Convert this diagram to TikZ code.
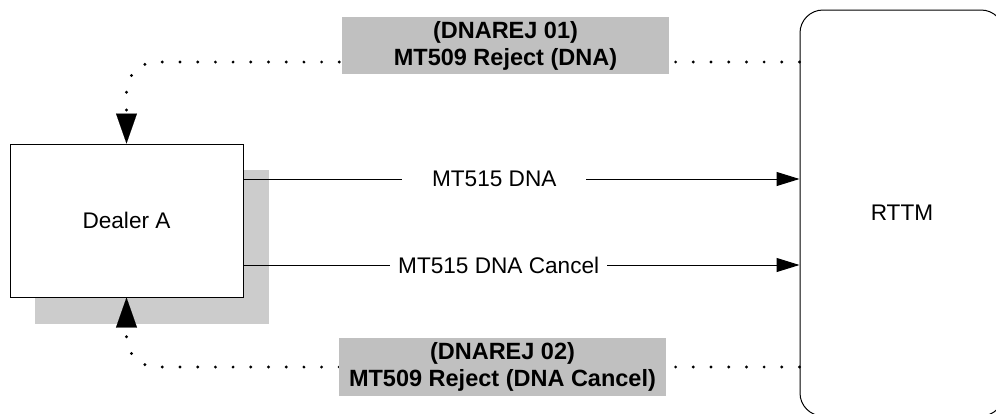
\documentclass[tikz,border=0pt]{standalone}
\usepackage{fontspec}
\setmainfont{Liberation Sans}
\usetikzlibrary{arrows.meta,backgrounds}
\definecolor{labelgray}{HTML}{C0C0C0}
\definecolor{shadowgray}{HTML}{CCCCCC}
\begin{document}
\begin{tikzpicture}[x=1pt,y=-1pt,
  plain/.style={font=\fontsize{22.6}{27}\selectfont},
  box/.style={draw, line width=1pt, inner sep=0pt, fill=white, plain},
  msg/.style={fill=labelgray, inner sep=0pt, minimum width=327pt, minimum height=57pt, align=center, font=\fontsize{23.5}{27}\selectfont\bfseries},
  lbl/.style={fill=white, inner ysep=2pt, plain},
  solidarrow/.style={line width=1pt, -{Triangle[length=23pt,width=14pt]}},
  dotarrow/.style={line width=3.2pt, line cap=round, dash pattern=on 0pt off 17.7pt, rounded corners=30pt, -{Triangle[length=30pt,width=21pt,line width=0.1pt]}},
]
\useasboundingbox (0,0) rectangle (996,413);
\clip (0,0) rectangle (996,413);

\node[box, minimum width=233pt, minimum height=153pt] (dealer) at (126.5,220.5) {Dealer A};
\begin{scope}[on background layer]
  \fill[shadowgray] ([shift={(25,26)}]dealer.south west) rectangle ([shift={(25,26)}]dealer.north east);
\end{scope}

\node[box, rounded corners=23pt, minimum width=204pt, minimum height=406pt] (rttm) at (902,213) {RTTM};

\draw[dotarrow] (rttm.west |- 0,62) -| (dealer.north);
\draw[dotarrow] (rttm.west |- 0,367) -| (dealer.south);

\node[msg] (rej1) at (505.5,45.5) {(DNAREJ 01)\\MT509 Reject (DNA)};
\node[msg, minimum height=58pt] (rej2) at (502.5,367) {(DNAREJ 02)\\MT509 Reject (DNA Cancel)};

\draw[solidarrow] (dealer.east |- 0,179) -- node[lbl, inner xsep=30pt, pos=0.451] (m1) {MT515 DNA} (rttm.west |- 0,179);
\draw[solidarrow] (dealer.east |- 0,265) -- node[lbl, inner xsep=8pt, pos=0.459] (m2) {MT515 DNA Cancel} (rttm.west |- 0,265);
\end{tikzpicture}
\end{document}
